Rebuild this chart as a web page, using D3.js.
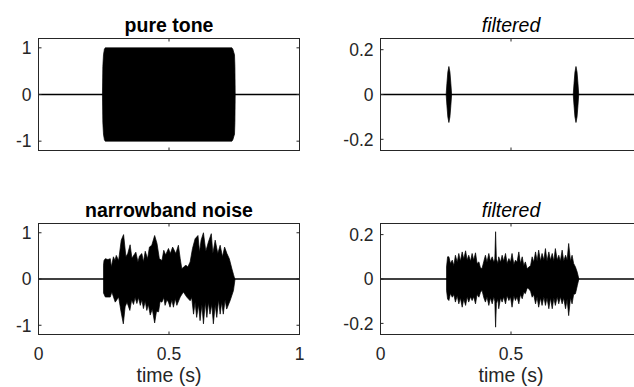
<!DOCTYPE html>
<html>
<head>
<meta charset="utf-8">
<script src="https://cdn.jsdelivr.net/npm/d3@7"></script>
<style>
  body { margin: 0; background: #fff; }
  svg { display: block; font-family: 'Liberation Sans', Arial, sans-serif; }
</style>
</head>
<body>
<div class="canvas"></div>
<script>
// tick values
const xTicks = [0, 0.5, 1];
const wideTicks = [-1, 0, 1];
const narrowTicks = [-0.2, 0, 0.2];

// pure tone envelope (s, amplitude)
const toneTime = [0.245, 0.2465, 0.249, 0.2525, 0.2556, 0.741, 0.7445, 0.751, 0.7525, 0.7536];
const toneEnv  = [0, 0.6, 0.85, 0.97, 1, 1, 0.97, 0.85, 0.6, 0];

// filtered tone: two short bursts at onset / offset
const filtToneTime = [0.2515, 0.2545, 0.258, 0.262, 0.266, 0.2695, 0.2725,
                      0.7385, 0.7415, 0.745, 0.749, 0.753, 0.7565, 0.7595];
const filtToneEnv  = [0, 0.05, 0.1, 0.125, 0.1, 0.05, 0,
                      0, 0.05, 0.1, 0.125, 0.1, 0.05, 0];

// narrowband noise: positive peaks
const noiseHiTime = [0.249, 0.251, 0.256, 0.266, 0.275, 0.279, 0.287, 0.293, 0.298, 0.307,
                     0.317, 0.326, 0.335, 0.342, 0.351, 0.358, 0.367, 0.373, 0.381, 0.387,
                     0.396, 0.402, 0.409, 0.418, 0.425, 0.434, 0.445, 0.454, 0.463, 0.473,
                     0.480, 0.487, 0.498, 0.505, 0.514, 0.526, 0.536, 0.543, 0.549, 0.556,
                     0.565, 0.572, 0.581, 0.590, 0.600, 0.611, 0.617, 0.623, 0.632, 0.641,
                     0.651, 0.662, 0.668, 0.677, 0.687, 0.696, 0.705, 0.713, 0.722, 0.731,
                     0.741, 0.747, 0.752];
const noiseHi = [0.30, 0.40, 0.44, 0.42, 0.44, 0.26, 0.48, 0.40, 0.51, 0.40,
                 0.84, 0.96, 0.48, 0.55, 0.74, 0.45, 0.53, 0.58, 0.37, 0.50,
                 0.55, 0.37, 0.60, 0.44, 0.69, 0.73, 0.94, 0.77, 0.44, 0.40,
                 0.62, 0.52, 0.66, 0.55, 0.69, 0.55, 0.73, 0.44, 0.22, 0.26,
                 0.30, 0.26, 0.37, 0.66, 0.87, 0.94, 0.58, 0.84, 1.00, 0.60,
                 0.80, 0.98, 0.55, 0.84, 0.55, 0.73, 0.48, 0.69, 0.55, 0.44,
                 0.22, 0.10, 0];

// narrowband noise: negative peaks
const noiseLoTime = [0.249, 0.256, 0.275, 0.281, 0.294, 0.307, 0.316, 0.325, 0.332, 0.339,
                     0.350, 0.357, 0.364, 0.370, 0.377, 0.383, 0.390, 0.396, 0.402, 0.409,
                     0.415, 0.421, 0.428, 0.436, 0.445, 0.452, 0.460, 0.466, 0.473, 0.480,
                     0.485, 0.492, 0.498, 0.504, 0.511, 0.517, 0.524, 0.530, 0.543, 0.555,
                     0.568, 0.581, 0.587, 0.594, 0.600, 0.606, 0.613, 0.619, 0.626, 0.632,
                     0.639, 0.645, 0.651, 0.657, 0.664, 0.670, 0.677, 0.683, 0.690, 0.696,
                     0.702, 0.708, 0.715, 0.721, 0.734, 0.747, 0.753];
const noiseLo = [-0.30, -0.39, -0.39, -0.28, -0.50, -0.39, -0.70, -0.97, -0.60, -0.50,
                 -0.68, -0.45, -0.55, -0.40, -0.53, -0.40, -0.57, -0.45, -0.64, -0.48,
                 -0.68, -0.55, -0.78, -0.65, -0.95, -0.70, -0.71, -0.48, -0.50, -0.40,
                 -0.57, -0.45, -0.50, -0.61, -0.45, -0.61, -0.42, -0.57, -0.39, -0.28,
                 -0.39, -0.47, -0.40, -0.76, -0.50, -0.83, -0.55, -0.90, -0.55, -0.97,
                 -0.50, -0.83, -0.50, -0.76, -0.55, -0.97, -0.55, -0.83, -0.45, -0.76,
                 -0.50, -0.76, -0.45, -0.65, -0.47, -0.25, 0];

// filtered noise: shared time base for both sides
const filtNoiseTime = [0.253, 0.257, 0.262, 0.268, 0.275, 0.281, 0.287, 0.294, 0.300, 0.306,
                       0.313, 0.319, 0.326, 0.332, 0.338, 0.345, 0.351, 0.357, 0.364, 0.370,
                       0.377, 0.383, 0.389, 0.396, 0.402, 0.408, 0.415, 0.421, 0.428, 0.434,
                       0.438, 0.441, 0.444, 0.450, 0.453, 0.460, 0.466, 0.472, 0.479, 0.485,
                       0.492, 0.498, 0.504, 0.511, 0.517, 0.523, 0.530, 0.536, 0.543, 0.549,
                       0.555, 0.562, 0.568, 0.575, 0.581, 0.587, 0.594, 0.600, 0.606, 0.613,
                       0.619, 0.626, 0.632, 0.638, 0.645, 0.651, 0.658, 0.664, 0.670, 0.677,
                       0.683, 0.689, 0.696, 0.702, 0.709, 0.715, 0.721, 0.728, 0.734, 0.740,
                       0.747, 0.754, 0.760];
const filtNoiseHi = [0.054, 0.100, 0.100, 0.070, 0.085, 0.060, 0.107, 0.075, 0.115, 0.080,
                     0.122, 0.090, 0.127, 0.085, 0.107, 0.080, 0.115, 0.085, 0.118, 0.070,
                     0.077, 0.050, 0.047, 0.080, 0.107, 0.075, 0.115, 0.080, 0.100, 0.075,
                     0.090, 0.213, 0.090, 0.070, 0.100, 0.075, 0.107, 0.080, 0.115, 0.070,
                     0.092, 0.075, 0.115, 0.065, 0.085, 0.075, 0.122, 0.070, 0.100, 0.060,
                     0.077, 0.045, 0.054, 0.060, 0.100, 0.075, 0.122, 0.080, 0.130, 0.080,
                     0.115, 0.085, 0.137, 0.080, 0.122, 0.085, 0.115, 0.080, 0.137, 0.085,
                     0.107, 0.080, 0.130, 0.080, 0.107, 0.085, 0.160, 0.080, 0.107, 0.070,
                     0.054, 0.030, 0];
const filtNoiseLo = [-0.051, -0.090, -0.097, -0.065, -0.082, -0.070, -0.104, -0.075, -0.112, -0.085,
                     -0.127, -0.090, -0.119, -0.080, -0.104, -0.080, -0.097, -0.080, -0.112, -0.070,
                     -0.082, -0.060, -0.051, -0.085, -0.104, -0.080, -0.119, -0.085, -0.112, -0.080,
                     -0.100, -0.217, -0.110, -0.090, -0.134, -0.085, -0.104, -0.080, -0.112, -0.075,
                     -0.097, -0.080, -0.127, -0.075, -0.097, -0.080, -0.112, -0.070, -0.089, -0.060,
                     -0.066, -0.040, -0.044, -0.055, -0.082, -0.070, -0.112, -0.080, -0.127, -0.085,
                     -0.119, -0.080, -0.119, -0.085, -0.134, -0.085, -0.134, -0.085, -0.119, -0.080,
                     -0.112, -0.080, -0.112, -0.085, -0.134, -0.090, -0.165, -0.085, -0.112, -0.070,
                     -0.066, -0.030, 0];

const svg = d3.select('.canvas')
  .append('svg')
    .attr('width', 634)
    .attr('height', 387);

const ink = '#262626';
const W = 634;

const panels = [
  {title: 'pure tone', italic: false, left: 38.5, top: 38.5, bottom: 150.5, ymax: 1.2, ticks: wideTicks,
   hiT: toneTime, hi: toneEnv, loT: toneTime, lo: toneEnv.map(v => -v), xlabel: false},
  {title: 'filtered', italic: true, left: 380.5, top: 38.5, bottom: 150.5, ymax: 0.25, ticks: narrowTicks,
   hiT: filtToneTime, hi: filtToneEnv, loT: filtToneTime, lo: filtToneEnv.map(v => -v), xlabel: false},
  {title: 'narrowband noise', italic: false, left: 38.5, top: 223.5, bottom: 334.5, ymax: 1.2, ticks: wideTicks,
   hiT: noiseHiTime, hi: noiseHi, loT: noiseLoTime, lo: noiseLo, xlabel: true},
  {title: 'filtered', italic: true, left: 380.5, top: 223.5, bottom: 334.5, ymax: 0.25, ticks: narrowTicks,
   hiT: filtNoiseTime, hi: filtNoiseHi, loT: filtNoiseTime, lo: filtNoiseLo, xlabel: true}
];

const axWidth = 261;

panels.forEach(p => {
  const x = d3.scaleLinear().domain([0, 1]).range([p.left, p.left + axWidth]);
  const y = d3.scaleLinear().domain([-p.ymax, p.ymax]).range([p.bottom, p.top]);
  const g = svg.append('g');

  // silent parts of the signal
  g.append('path')
    .attr('d', d3.line()([[x(0), y(0)], [x(1), y(0)]]))
    .attr('stroke', '#000')
    .attr('stroke-width', 1.3)
    .attr('fill', 'none');

  // waveform, positive and negative halves
  const half = d3.area()
    .x(d => x(d[0]))
    .y0(y(0))
    .y1(d => y(d[1]));
  [[p.hiT, p.hi], [p.loT, p.lo]].forEach(([ts, vs]) => {
    g.append('path')
      .attr('d', half(ts.map((t, i) => [t, vs[i]])))
      .attr('fill', '#000')
      .attr('stroke', '#000')
      .attr('stroke-width', 0.7)
      .attr('stroke-linejoin', 'round');
  });

  // box
  g.append('rect')
    .attr('x', p.left)
    .attr('y', p.top)
    .attr('width', axWidth)
    .attr('height', p.bottom - p.top)
    .attr('fill', 'none')
    .attr('stroke', ink)
    .attr('stroke-width', 1);

  // inward ticks on all sides
  const tl = 3;
  xTicks.forEach(v => {
    g.append('line').attr('x1', x(v)).attr('x2', x(v)).attr('y1', p.bottom).attr('y2', p.bottom - tl)
      .attr('stroke', ink);
    g.append('line').attr('x1', x(v)).attr('x2', x(v)).attr('y1', p.top).attr('y2', p.top + tl)
      .attr('stroke', ink);
  });
  p.ticks.forEach(v => {
    g.append('line').attr('x1', p.left).attr('x2', p.left + tl).attr('y1', y(v)).attr('y2', y(v))
      .attr('stroke', ink);
    g.append('line').attr('x1', p.left + axWidth).attr('x2', p.left + axWidth - tl).attr('y1', y(v)).attr('y2', y(v))
      .attr('stroke', ink);
    g.append('text')
      .attr('x', p.left - 7)
      .attr('y', y(v))
      .attr('dy', '0.36em')
      .attr('text-anchor', 'end')
      .attr('font-size', 17.5)
      .attr('fill', ink)
      .text(v);
  });

  if (p.xlabel) {
    // labels past the window edge are not shown in the figure
    xTicks.filter(v => x(v) + 5 < W).forEach(v => {
      g.append('text')
        .attr('x', x(v))
        .attr('y', 360)
        .attr('text-anchor', 'middle')
        .attr('font-size', 17.5)
        .attr('fill', ink)
        .text(v);
    });
    g.append('text')
      .attr('x', x(0.5))
      .attr('y', 382)
      .attr('text-anchor', 'middle')
      .attr('font-size', 19.5)
      .attr('fill', ink)
      .text('time (s)');
  }

  g.append('text')
    .attr('x', x(0.5))
    .attr('y', p.top - 6.5)
    .attr('text-anchor', 'middle')
    .attr('font-size', 19.5)
    .attr('font-weight', p.italic ? 'normal' : 'bold')
    .attr('font-style', p.italic ? 'italic' : 'normal')
    .attr('fill', '#000')
    .text(p.title);
});
</script>
</body>
</html>
